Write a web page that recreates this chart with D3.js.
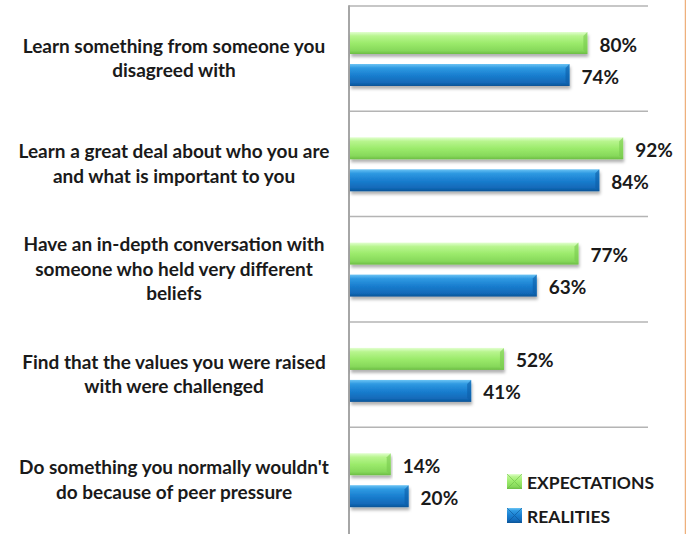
<!DOCTYPE html>
<html lang="en">
<head>
<meta charset="utf-8">
<title>Expectations vs Realities</title>
<script src="https://d3js.org/d3.v7.min.js"></script>
<style>
  body { margin: 0; background: #fff; }
  svg { display: block; }
  .cat { font-family: Lato, "Open Sans", sans-serif; font-weight: bold; font-size: 19px; fill: #1a1a1a; }
  .val { font-family: Lato, "Open Sans", sans-serif; font-weight: bold; font-size: 19px; fill: #1a1a1a; }
  .leg { font-family: Lato, "Open Sans", sans-serif; font-weight: bold; font-size: 17.5px; fill: #1a1a1a; }
</style>
</head>
<body>
<script>
// data
const categories = [
  "Learn something from someone you|disagreed with",
  "Learn a great deal about who you are|and what is important to you",
  "Have an in-depth conversation with|someone who held very different|beliefs",
  "Find that the values you were raised|with were challenged",
  "Do something you normally wouldn't|do because of peer pressure"
];
const expectations = [80, 92, 77, 52, 14];
const realities = [74, 84, 63, 41, 20];
const seriesNames = ["EXPECTATIONS", "REALITIES"];

const width = 686, height = 534;
const axisX = 349;

const svg = d3.select("body").append("svg")
  .attr("width", width)
  .attr("height", height);

const defs = svg.append("defs");

// gradients for bars
function grad(id, stops) {
  const g = defs.append("linearGradient").attr("id", id)
    .attr("x1", 0).attr("y1", 0).attr("x2", 0).attr("y2", 1);
  stops.forEach(s => g.append("stop").attr("offset", s[0]).attr("stop-color", s[1]));
}
grad("gGreen", [[0, "#e2ffd0"], [0.18, "#b8f58e"], [0.5, "#9ceb6c"], [0.85, "#86d85a"], [1, "#6cbd44"]]);
grad("gBlue", [[0, "#6cc4f4"], [0.18, "#2f9ae2"], [0.5, "#1a7fd0"], [0.85, "#1269b8"], [1, "#0b5496"]]);

const shadow = defs.append("filter").attr("id", "shadow")
  .attr("x", "-5%").attr("y", "-20%").attr("width", "110%").attr("height", "160%");
shadow.append("feDropShadow").attr("dx", 1).attr("dy", 3).attr("stdDeviation", 1.8)
  .attr("flood-color", "#000").attr("flood-opacity", 0.3);

// scales
const x = d3.scaleLinear().domain([0, 100]).range([axisX, 647]);
const y = d3.scaleBand().domain(categories).range([6, 532.5]).padding(0);
const inner = d3.scaleBand().domain(seriesNames).range([26, 80]).paddingInner(0.3125);
const fills = { "EXPECTATIONS": "url(#gGreen)", "REALITIES": "url(#gBlue)" };

// gridlines between categories
svg.selectAll("line.grid")
  .data(categories)
  .enter()
  .append("line")
  .attr("class", "grid")
  .attr("x1", axisX).attr("x2", x(100) + 1)
  .attr("y1", d => y(d)).attr("y2", d => y(d))
  .attr("stroke", "#b4b4b4")
  .attr("stroke-width", 1.5);

// vertical axis
svg.append("line")
  .attr("x1", axisX).attr("x2", axisX)
  .attr("y1", y.range()[0] - 0.75).attr("y2", height)
  .attr("stroke", "#a6a6a6")
  .attr("stroke-width", 2);

// rows of bars
const rows = categories.map((c, i) => ({ cat: c, vals: [
  { s: "EXPECTATIONS", v: expectations[i] },
  { s: "REALITIES", v: realities[i] }
]}));

const g = svg.selectAll("g.row")
  .data(rows)
  .enter()
  .append("g")
  .attr("class", "row")
  .attr("transform", d => "translate(0," + y(d.cat) + ")");

const bars = g.selectAll("g.bar")
  .data(d => d.vals)
  .enter()
  .append("g")
  .attr("class", "bar");

bars.append("rect")
  .attr("x", axisX + 1)
  .attr("y", d => inner(d.s))
  .attr("width", d => x(d.v) - axisX - 1)
  .attr("height", inner.bandwidth())
  .attr("fill", d => fills[d.s])
  .attr("filter", "url(#shadow)");

// bevel at the bar ends
bars.append("path")
  .attr("d", d => {
    const x1 = x(d.v), t = inner(d.s), b = t + inner.bandwidth(), k = 4;
    return "M" + x1 + "," + t + "L" + (x1 - k) + "," + (t + k) + "L" + (x1 - k) + "," + (b - k) + "L" + x1 + "," + b + "Z";
  })
  .attr("fill", d => d.s === "EXPECTATIONS" ? "#78c94e" : "#0d5ea6")
  .attr("opacity", 0.6);

bars.append("text")
  .attr("class", "val")
  .attr("x", d => x(d.v) + 12)
  .attr("y", d => inner(d.s) + inner.bandwidth() / 2 + 8.5)
  .text(d => d.v + "%");

// category labels
const labelX = 174;
const lineH = 24.5;
g.append("text")
  .attr("class", "cat")
  .attr("text-anchor", "middle")
  .each(function(d) {
    const lines = d.cat.split("|");
    const mid = y.bandwidth() / 2 + 6.5 - (lines.length - 1) * lineH / 2;
    const t = d3.select(this);
    lines.forEach((ln, j) => {
      t.append("tspan").attr("x", labelX).attr("y", mid + j * lineH).text(ln);
    });
  });

// legend
const legend = svg.append("g").attr("transform", "translate(507,474)");
const lg = legend.selectAll("g")
  .data(seriesNames)
  .enter()
  .append("g")
  .attr("transform", (d, i) => "translate(0," + i * 34 + ")");
lg.append("rect")
  .attr("width", 15).attr("height", 15)
  .attr("fill", d => fills[d]);
lg.append("path")
  .attr("d", "M0,0L15,15M15,0L0,15")
  .attr("stroke", d => d === "EXPECTATIONS" ? "#6cbd44" : "#0b5496")
  .attr("stroke-width", 1)
  .attr("opacity", 0.6);
lg.append("text")
  .attr("class", "leg")
  .attr("x", 20)
  .attr("y", 14.5)
  .text(d => d);

// orange frame edge at right
svg.append("line")
  .attr("x1", 685.5).attr("x2", 685.5)
  .attr("y1", 0).attr("y2", height)
  .attr("stroke", "#eeb07c")
  .attr("stroke-width", 1.5);
</script>
</body>
</html>
